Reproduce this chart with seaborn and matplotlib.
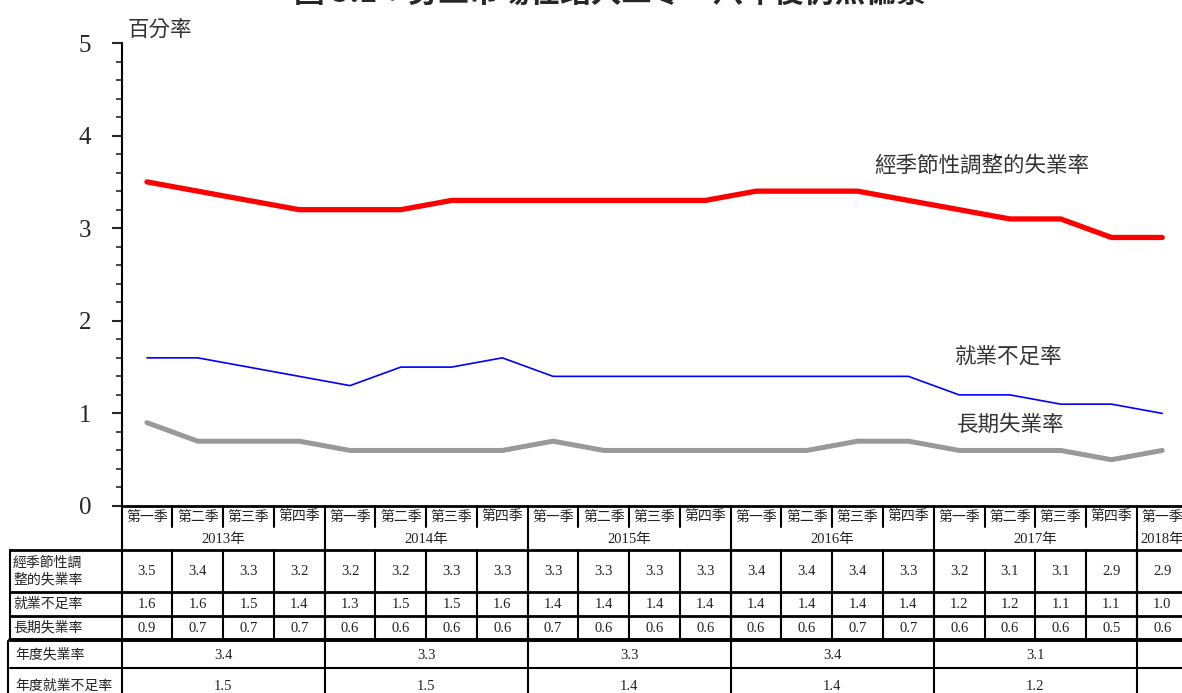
import numpy as np
import pandas as pd
import matplotlib
matplotlib.use('Agg')
import matplotlib.pyplot as plt
import seaborn as sns
from matplotlib.ticker import MultipleLocator

quarters = ['第一季', '第二季', '第三季', '第四季'] * 5 + ['第一季']
years = ['2013年', '2014年', '2015年', '2016年', '2017年', '2018年']
quarters_per_year = [4, 4, 4, 4, 4, 1]
unemp_sa = [3.5, 3.4, 3.3, 3.2, 3.2, 3.2, 3.3, 3.3, 3.3, 3.3, 3.3, 3.3,
            3.4, 3.4, 3.4, 3.3, 3.2, 3.1, 3.1, 2.9, 2.9]
underemp = [1.6, 1.6, 1.5, 1.4, 1.3, 1.5, 1.5, 1.6, 1.4, 1.4, 1.4, 1.4,
            1.4, 1.4, 1.4, 1.4, 1.2, 1.2, 1.1, 1.1, 1.0]
long_term = [0.9, 0.7, 0.7, 0.7, 0.6, 0.6, 0.6, 0.6, 0.7, 0.6, 0.6, 0.6,
             0.6, 0.6, 0.7, 0.7, 0.6, 0.6, 0.6, 0.5, 0.6]
annual_unemp = [3.4, 3.3, 3.3, 3.4, 3.1]
annual_underemp = [1.5, 1.5, 1.4, 1.4, 1.2]
series_names = ['經季節性調整的失業率', '就業不足率', '長期失業率']
row_labels = ['經季節性調\n整的失業率', '就業不足率', '長期失業率']
annual_labels = ['年度失業率', '年度就業不足率']
title = '圖 5.1：勞工市場在踏入二零一八年後仍然偏緊'

sns.set_theme(style='white')
plt.rcParams['font.family'] = ['Liberation Serif', 'Noto Sans CJK TC']
CJK = ['Noto Sans CJK TC', 'DejaVu Sans']
SERIF = ['Liberation Serif', 'Noto Sans CJK TC']

n = len(quarters)
idx = np.arange(n)
df = pd.DataFrame({'idx': idx, 'sa': unemp_sa, 'under': underemp, 'long': long_term})

W, H = 1182, 693
fig = plt.figure(figsize=(W / 100, H / 100), dpi=100)
left = 121.6 / W
ax = fig.add_axes([left, (H - 506) / H, 1 - left, (506 - 43) / H])
xlim = (-0.5, 20.39)

sns.lineplot(data=df, x='idx', y='sa', ax=ax, color='#ff0000', linewidth=3.8)
sns.lineplot(data=df, x='idx', y='under', ax=ax, color='#0000ff', linewidth=1.2)
sns.lineplot(data=df, x='idx', y='long', ax=ax, color='#999999', linewidth=3.6)

ax.set_xlim(*xlim)
ax.set_ylim(0, 5)
ax.set_xlabel('')
ax.set_ylabel('')
ax.set_xticks([])
ax.yaxis.set_major_locator(MultipleLocator(1))
ax.yaxis.set_minor_locator(MultipleLocator(0.2))
ax.tick_params(axis='y', which='major', direction='out', length=7, width=1.5,
               left=True, labelsize=18, pad=15)
ax.tick_params(axis='y', which='minor', direction='out', length=4, width=1.2, left=True)
for s in ['top', 'right']:
    ax.spines[s].set_visible(False)
ax.spines['left'].set_linewidth(1.5)
ax.spines['bottom'].set_linewidth(2)
for s in ['left', 'bottom']:
    ax.spines[s].set_color('black')

ax.text(-0.38, 5.02, '百分率', family=CJK, fontsize=15.5, color='#333333',
        ha='left', va='bottom')
ax.text(16.45, 3.68, series_names[0], family=CJK, fontsize=15.5, color='#333333',
        ha='center', va='center')
ax.text(16.97, 1.61, series_names[1], family=CJK, fontsize=15.5, color='#333333',
        ha='center', va='center')
ax.text(17.02, 0.875, series_names[2], family=CJK, fontsize=15.5, color='#333333',
        ha='center', va='center')

fig.text(610 / W, 1 - 9 / H, title, family=CJK, fontsize=22, fontweight='bold',
         ha='center', va='bottom')

# table under the chart (y in pixel rows)
tax = fig.add_axes([left, 0, 1 - left, (H - 506) / H])
tax.set_xlim(*xlim)
tax.set_ylim(H, 506)
tax.axis('off')
lab_x = -2.70
lw = 1.5
kw = dict(color='black', clip_on=False)

starts = np.cumsum([0] + quarters_per_year[:-1])
bounds = [s - 0.5 for s in starts]

# quarter header row
for i, q in enumerate(quarters):
    tax.text(i, 517, q, family=CJK, fontsize=10, ha='center', va='center', color='#222222')
    if i - 0.5 not in bounds and i > 0:
        tax.plot([i - 0.5, i - 0.5], [506, 527], lw=lw, **kw)
for s, k, y in zip(starts, quarters_per_year, years):
    tax.text(s + (k - 1) / 2, 540, y, family=SERIF, fontsize=10.5, ha='center',
             va='center', color='#222222')
for b in bounds:
    tax.plot([b, b], [506, H], lw=lw, **kw)

# quarterly rows
row_y = [(550, 592), (592, 616), (616, 640)]
for lbl, vals, (y0, y1) in zip(row_labels, [unemp_sa, underemp, long_term], row_y):
    tax.text(lab_x + 0.06, (y0 + y1) / 2, lbl, family=CJK, fontsize=10,
             ha='left', va='center', linespacing=1.25, color='#222222')
    for i, v in enumerate(vals):
        tax.text(i, (y0 + y1) / 2 + 1, f'{v:.1f}', family=SERIF, fontsize=10.5,
                 ha='center', va='center', color='#222222')
    for i in range(n):
        tax.plot([i + 0.5, i + 0.5], [y0, y1], lw=lw, **kw)
    tax.plot([lab_x, lab_x], [y0, y1], lw=lw, **kw)
for y in [550, 592, 616]:
    tax.plot([lab_x, xlim[1]], [y, y], lw=lw + 0.5, **kw)
tax.plot([lab_x, xlim[1]], [640, 640], lw=2.8, **kw)

# annual rows
ann_y = [(641, 668), (668, H)]
for lbl, vals, (y0, y1) in zip(annual_labels, [annual_unemp, annual_underemp], ann_y):
    yc = (y0 + y1) / 2 if y1 < H else 686
    tax.text(lab_x + 0.1, yc, lbl, family=CJK, fontsize=10, ha='left',
             va='center', color='#222222')
    for s, k, v in zip(starts, quarters_per_year, vals):
        tax.text(s + (k - 1) / 2, yc + 1, f'{v:.1f}', family=SERIF, fontsize=10.5,
                 ha='center', va='center', color='#222222')
    tax.plot([lab_x - 0.03, lab_x - 0.03], [y0, y1], lw=lw, **kw)
tax.plot([lab_x, xlim[1]], [668, 668], lw=lw, **kw)

fig.savefig('out.png', dpi=100)
